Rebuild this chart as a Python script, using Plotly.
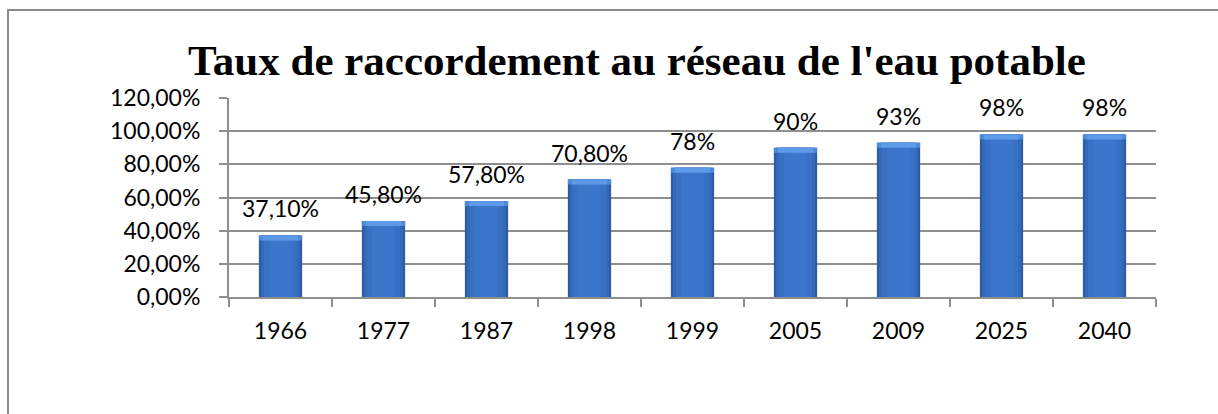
import plotly.graph_objects as go

years = ["1966", "1977", "1987", "1998", "1999", "2005", "2009", "2025", "2040"]
rates = [0.371, 0.458, 0.578, 0.708, 0.78, 0.90, 0.93, 0.98, 0.98]
labels = ["37,10%", "45,80%", "57,80%", "70,80%", "78%", "90%", "93%", "98%", "98%"]
title = "Taux de raccordement au réseau de l'eau potable"

W, H = 1218, 414
L, R, T, B = 229, 1156, 98, 297

fig = go.Figure()
layers = [(0.42, "#2b5da3"), (0.38, "#3469b8"), (0.32, "#3871c4"), (0.22, "#3c76cb")]
for w, c in layers:
    fig.add_trace(go.Bar(x=years, y=rates, width=w, marker=dict(color=c, line=dict(width=0)),
                         hoverinfo="skip", showlegend=False))
# top bevel highlight
bevel = 0.03
fig.add_trace(go.Bar(x=years, y=[bevel] * len(rates), base=[v - bevel for v in rates], width=0.42,
                     marker=dict(color="#4f8ad8", line=dict(width=0)), hoverinfo="skip", showlegend=False))
fig.add_trace(go.Bar(x=years, y=[bevel] * len(rates), base=[v - bevel for v in rates], width=0.34,
                     marker=dict(color="#5d9be8", line=dict(width=0)), hoverinfo="skip", showlegend=False))

for i, (v, lab) in enumerate(zip(rates, labels)):
    fig.add_annotation(x=i, y=v, text=lab, showarrow=False, yanchor="middle", yshift=27,
                       font=dict(family="Lato", size=23, color="#000"))

fig.update_layout(
    width=W, height=H,
    margin=dict(l=L, r=W - R, t=T, b=H - B, autoexpand=False),
    paper_bgcolor="white", plot_bgcolor="white",
    barmode="overlay",
    separators=", ",
    title=dict(text=title, x=637 / W, xanchor="center",
               y=1 - 60 / H, yanchor="middle", yref="container",
               font=dict(family="Liberation Serif", size=43, color="#000", weight="bold")),
    font=dict(family="Lato", size=23, color="#000"),
)
fig.update_yaxes(range=[0, 1.2], dtick=0.2, tickformat=".2%", showgrid=True, gridcolor="#8f8f8f",
                 gridwidth=2, showline=True, linecolor="#8f8f8f", linewidth=2, ticks="outside",
                 ticklen=8, tickcolor="#8f8f8f", tickwidth=2, zeroline=False, fixedrange=True,
                 ticklabelstandoff=14)
fig.update_xaxes(type="category", range=[-0.5, 8.5], showline=True, linecolor="#8f8f8f", linewidth=2,
                 ticks="outside", tickson="boundaries", ticklen=8, tickcolor="#8f8f8f", tickwidth=2,
                 showgrid=False, ticklabelstandoff=12, tickangle=0, fixedrange=True)

# chart border
fig.add_shape(type="rect", xref="paper", yref="paper",
              x0=(8 - L) / (R - L), x1=(1230 - L) / (R - L),
              y0=(B - 430) / (B - T), y1=(B - 10) / (B - T),
              line=dict(color="#8a8a8a", width=2), fillcolor="rgba(0,0,0,0)", layer="below")

fig.write_html("out.html", config={"displayModeBar": False},
               post_script="document.body.style.margin='0';")
